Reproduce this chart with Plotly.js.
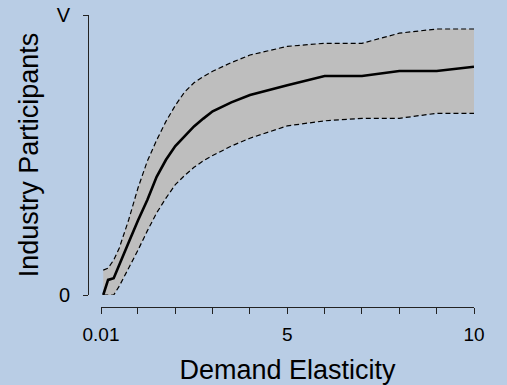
<!DOCTYPE html>
<html>
<head>
<meta charset="utf-8">
<script src="https://cdn.plot.ly/plotly-3.0.1.min.js"></script>
<style>html,body{margin:0;padding:0;background:#b9cde5;}#chart{width:507px;height:385px;}</style>
</head>
<body>
<div id="chart"></div>
<script>
const elasticity = [0.07, 0.2, 0.35, 0.5, 0.75, 1, 1.25, 1.5, 1.75, 2, 2.25, 2.5, 2.75, 3, 3.5, 4, 5, 6, 7, 8, 9, 10];
const participantsMean  = [0, 0.054, 0.06, 0.11, 0.1875, 0.266, 0.339, 0.422, 0.483, 0.532, 0.567, 0.602, 0.63, 0.656, 0.688, 0.714, 0.749, 0.782, 0.782, 0.8, 0.8, 0.815];
const participantsUpper = [0.089, 0.096, 0.125, 0.168, 0.268, 0.382, 0.478, 0.553, 0.62, 0.677, 0.725, 0.758, 0.78, 0.799, 0.83, 0.857, 0.888, 0.899, 0.899, 0.935, 0.95, 0.95];
const participantsLower = [0, 0, 0, 0.032, 0.094, 0.16, 0.229, 0.293, 0.346, 0.394, 0.427, 0.456, 0.479, 0.498, 0.532, 0.56, 0.604, 0.622, 0.631, 0.631, 0.649, 0.649];
const xTickVals = [0.01, 1, 2, 3, 4, 5, 6, 7, 8, 9, 10];
const xTickText = ['0.01', '', '', '', '', '5', '', '', '', '', '10'];
const yTickVals = [0, 1];
const yTickText = ['0', 'V'];

const W = 507, H = 385;
const ml = 88, mr = 33, mt = 15, mb = 78;
const pw = W - ml - mr, ph = H - mt - mb;

const traces = [
  {x: elasticity, y: participantsLower, mode: 'lines', line: {color: '#000', width: 1.2, dash: '5px,3px'}, hoverinfo: 'skip'},
  {x: elasticity, y: participantsUpper, mode: 'lines', fill: 'tonexty', fillcolor: '#bebebe', line: {color: '#000', width: 1.2, dash: '5px,3px'}, hoverinfo: 'skip'},
  {x: elasticity, y: participantsMean, mode: 'lines', line: {color: '#000', width: 2.6}}
];

const font = {family: 'Liberation Sans, Arial, sans-serif', color: '#000'};
const layout = {
  width: W, height: H,
  margin: {l: ml, r: mr, t: mt, b: mb, pad: 0},
  paper_bgcolor: '#b9cde5', plot_bgcolor: 'rgba(0,0,0,0)',
  showlegend: false,
  font: font,
  xaxis: {
    domain: [(101 - ml) / pw, 1], range: [0.01, 10], anchor: 'free', position: 0,
    showgrid: false, zeroline: false, showline: true, linecolor: '#222', linewidth: 1,
    ticks: 'outside', ticklen: 6, tickcolor: '#222', tickwidth: 1,
    tickvals: xTickVals, ticktext: xTickText, tickfont: {size: 19, family: font.family, color: '#000'},
    ticklabelstandoff: 4,
    title: {text: 'Demand Elasticity', font: {size: 27, family: font.family, color: '#000'}, standoff: 17}
  },
  yaxis: {
    domain: [(307 - 295) / ph, 1], range: [0, 1], anchor: 'free', position: 0,
    showgrid: false, zeroline: false, showline: true, linecolor: '#222', linewidth: 1,
    ticks: 'outside', ticklen: 5, tickcolor: '#222', tickwidth: 1,
    tickvals: yTickVals, ticktext: yTickText, tickfont: {size: 20, family: font.family, color: '#000'},
    ticklabelstandoff: 9,
    title: {text: 'Industry Participants', font: {size: 27, family: font.family, color: '#000'}, standoff: 9}
  }
};
Plotly.newPlot('chart', traces, layout, {displayModeBar: false, staticPlot: true});
</script>
</body>
</html>
